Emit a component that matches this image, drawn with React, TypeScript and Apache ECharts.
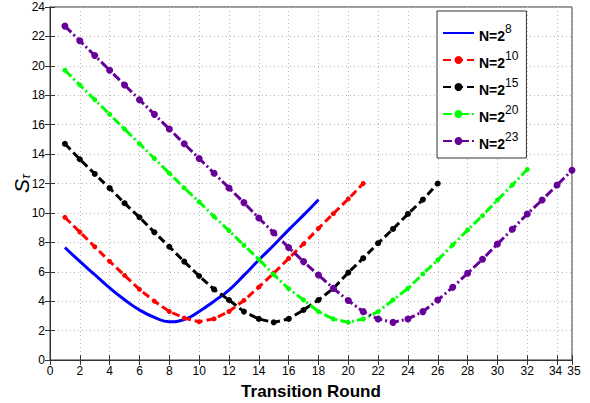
import React, { useEffect, useRef } from "react";
import * as echarts from "echarts";

const xTickLabels = ["0","2","4","6","8","10","12","14","16","18","20","22","24","26","28","30","32","34","35"];
const seriesNames = ["N=2^8", "N=2^10", "N=2^15", "N=2^20", "N=2^23"];
const exponents = ["8", "10", "15", "20", "23"];

const roundsN8 = [1,2,3,4,5,6,7,8,9,10,11,12,13,14,15,16,17,18];
const valuesN8 = [7.65,6.7,5.8,4.9,4.1,3.4,2.9,2.6,2.75,3.3,4.0,4.75,5.75,6.8,7.8,8.85,9.85,10.9];

const roundsN10 = [1,2,3,4,5,6,7,8,9,10,11,12,13,14,15,16,17,18,19,20,21];
const valuesN10 = [9.7,8.7,7.7,6.7,5.75,4.8,4.0,3.3,2.85,2.6,2.8,3.3,4.05,4.95,5.9,6.9,7.9,8.95,9.95,10.95,12.0];

const roundsN15 = [1,2,3,4,5,6,7,8,9,10,11,12,13,14,15,16,17,18,19,20,21,22,23,24,25,26];
const valuesN15 = [14.7,13.65,12.65,11.68,10.66,9.7,8.68,7.7,6.69,5.71,4.8,4.08,3.29,2.79,2.56,2.79,3.4,4.08,4.87,5.94,6.92,7.94,8.91,9.93,10.9,12.0];

const roundsN20 = [1,2,3,4,5,6,7,8,9,10,11,12,13,14,15,16,17,18,19,20,21,22,23,24,25,26,27,28,29,30,31,32];
const valuesN20 = [19.7,18.7,17.7,16.7,15.7,14.7,13.7,12.7,11.7,10.75,9.75,8.8,7.8,6.85,5.8,4.85,4.08,3.29,2.79,2.56,2.79,3.29,4.08,4.87,5.85,6.8,7.82,8.84,9.82,10.88,11.9,12.95];

const roundsN23 = [1,2,3,4,5,6,7,8,9,10,11,12,13,14,15,16,17,18,19,20,21,22,23,24,25,26,27,28,29,30,31,32,33,34,35];
const valuesN23 = [22.7,21.7,20.7,19.7,18.7,17.7,16.7,15.7,14.7,13.7,12.7,11.7,10.7,9.65,8.65,7.65,6.69,5.78,4.87,4.04,3.29,2.79,2.56,2.79,3.29,4.08,4.94,5.9,6.85,7.89,8.89,9.93,10.88,11.9,12.9];

const FONT = "'Liberation Sans', Arial, sans-serif";

function pairs(xs: number[], ys: number[]) {
  return xs.map((x, i) => [x, ys[i]]);
}

export default function App() {
  const ref = useRef<HTMLDivElement>(null);
  useEffect(() => {
    if (!ref.current) return;
    const chart = echarts.init(ref.current, null, { renderer: "svg" });
    const axisColor = "#333";
    const gridLine = { show: true, lineStyle: { color: "#b8b8b8", type: [1, 3] as any, width: 1 } };
    const xCommon = { type: "value" as const, min: 0, max: 35, interval: 2 };
    const yCommon = { type: "value" as const, min: 0, max: 24, interval: 2 };
    const option: any = {
      animation: false,
      backgroundColor: "#fff",
      grid: {
        left: 50, right: 18, top: 7, bottom: 43,
        outerBoundsMode: "none", containLabel: false,
        show: true, borderColor: axisColor, borderWidth: 1, backgroundColor: "transparent",
      },
      xAxis: [
        {
          ...xCommon,
          position: "bottom",
          axisLine: { show: true, lineStyle: { color: axisColor } },
          axisTick: { show: true, inside: true, length: 5, lineStyle: { color: axisColor } },
          axisLabel: {
            color: "#000", fontFamily: FONT, fontSize: 12, margin: 5,
            formatter: (v: number) => {
              const s = String(v);
              if (!xTickLabels.includes(s)) return "";
              if (s === "35") return `{r|${s}}`;
              if (s === "34") return `{l|${s}}`;
              return s;
            },
            rich: {
              r: { fontFamily: FONT, fontSize: 12, color: "#000", padding: [0, 0, 0, 4] },
              l: { fontFamily: FONT, fontSize: 12, color: "#000", padding: [0, 3, 0, 0] },
            },
          },
          splitLine: gridLine,
          name: "Transition Round",
          nameLocation: "middle",
          nameGap: 22,
          nameMoveOverlap: false,
          nameTextStyle: { color: "#000", fontFamily: FONT, fontSize: 17, fontWeight: "bold", verticalAlign: "top", lineHeight: 18 },
        },
        {
          ...xCommon,
          position: "top",
          axisLine: { show: true, lineStyle: { color: axisColor } },
          axisTick: { show: true, inside: true, length: 5, lineStyle: { color: axisColor } },
          axisLabel: { show: false },
          splitLine: { show: false },
        },
      ],
      yAxis: [
        {
          ...yCommon,
          position: "left",
          axisLine: { show: true, lineStyle: { color: axisColor } },
          axisTick: { show: true, inside: true, length: 5, lineStyle: { color: axisColor } },
          axisLabel: { color: "#000", fontFamily: FONT, fontSize: 12, margin: 5 },
          splitLine: gridLine,
          name: "{s|S}{sub|τ}",
          nameLocation: "middle",
          nameRotate: 90,
          nameGap: 18,
          nameMoveOverlap: false,
          nameTextStyle: {
            rich: {
              s: { fontFamily: FONT, fontStyle: "italic", fontSize: 21, color: "#000", lineHeight: 22, verticalAlign: "middle" },
              sub: { fontFamily: FONT, fontStyle: "italic", fontSize: 13, color: "#000", lineHeight: 22, verticalAlign: "bottom", padding: [8, 0, 0, 0] },
            },
          },
        },
        {
          ...yCommon,
          position: "right",
          axisLine: { show: true, lineStyle: { color: axisColor } },
          axisTick: { show: true, inside: true, length: 5, lineStyle: { color: axisColor } },
          axisLabel: { show: false },
          splitLine: { show: false },
        },
      ],
      legend: {
        orient: "vertical",
        left: 437,
        top: 11,
        width: 100,
        padding: [11, 8, 6, 5],
        itemGap: 5,
        itemWidth: 31,
        itemHeight: 10,
        backgroundColor: "#fff",
        borderColor: "#333",
        borderWidth: 1,
        borderRadius: 0,
        data: [
          { name: seriesNames[0], itemStyle: { opacity: 0 } },
          seriesNames[1], seriesNames[2], seriesNames[3], seriesNames[4],
        ],
        formatter: (name: string) => {
          const i = seriesNames.indexOf(name);
          return `{a|N=2}{b|${exponents[i]}}`;
        },
        textStyle: {
          padding: [0, 14, 0, 0],
          rich: {
            a: { fontFamily: FONT, fontSize: 14, fontWeight: "bold", color: "#000", lineHeight: 20, verticalAlign: "bottom", padding: [7, 0, 0, 0] },
            b: { fontFamily: FONT, fontSize: 12, color: "#000", lineHeight: 20, verticalAlign: "top", padding: [0, 0, 9, 0] },
          },
        },
      },
      series: [
        {
          name: seriesNames[0], type: "line", smooth: true, showSymbol: false, symbol: "none",
          data: pairs(roundsN8, valuesN8),
          lineStyle: { color: "#0000ff", width: 3 }, itemStyle: { color: "#0000ff" }, z: 2,
        },
        {
          name: seriesNames[1], type: "line", symbol: "circle", symbolSize: 5,
          data: pairs(roundsN10, valuesN10),
          lineStyle: { color: "#ff0000", width: 3, type: [8, 4] }, itemStyle: { color: "#ff0000" }, z: 3,
        },
        {
          name: seriesNames[2], type: "line", symbol: "circle", symbolSize: 6,
          data: pairs(roundsN15, valuesN15),
          lineStyle: { color: "#000000", width: 3, type: [8, 4] }, itemStyle: { color: "#000000" }, z: 4,
        },
        {
          name: seriesNames[3], type: "line", symbol: "circle", symbolSize: 5,
          data: pairs(roundsN20, valuesN20),
          lineStyle: { color: "#00ff00", width: 3, type: [9, 3, 2, 3] }, itemStyle: { color: "#00ff00" }, z: 5,
        },
        {
          name: seriesNames[4], type: "line", symbol: "circle", symbolSize: 7,
          data: pairs(roundsN23, valuesN23),
          lineStyle: { color: "#660099", width: 3, type: [9, 3, 2, 3] }, itemStyle: { color: "#660099" }, z: 6,
        },
      ],
    };
    chart.setOption(option);
    return () => chart.dispose();
  }, []);
  return <div ref={ref} style={{ width: 590, height: 403, position: "absolute", left: 0, top: 0 }} />;
}
